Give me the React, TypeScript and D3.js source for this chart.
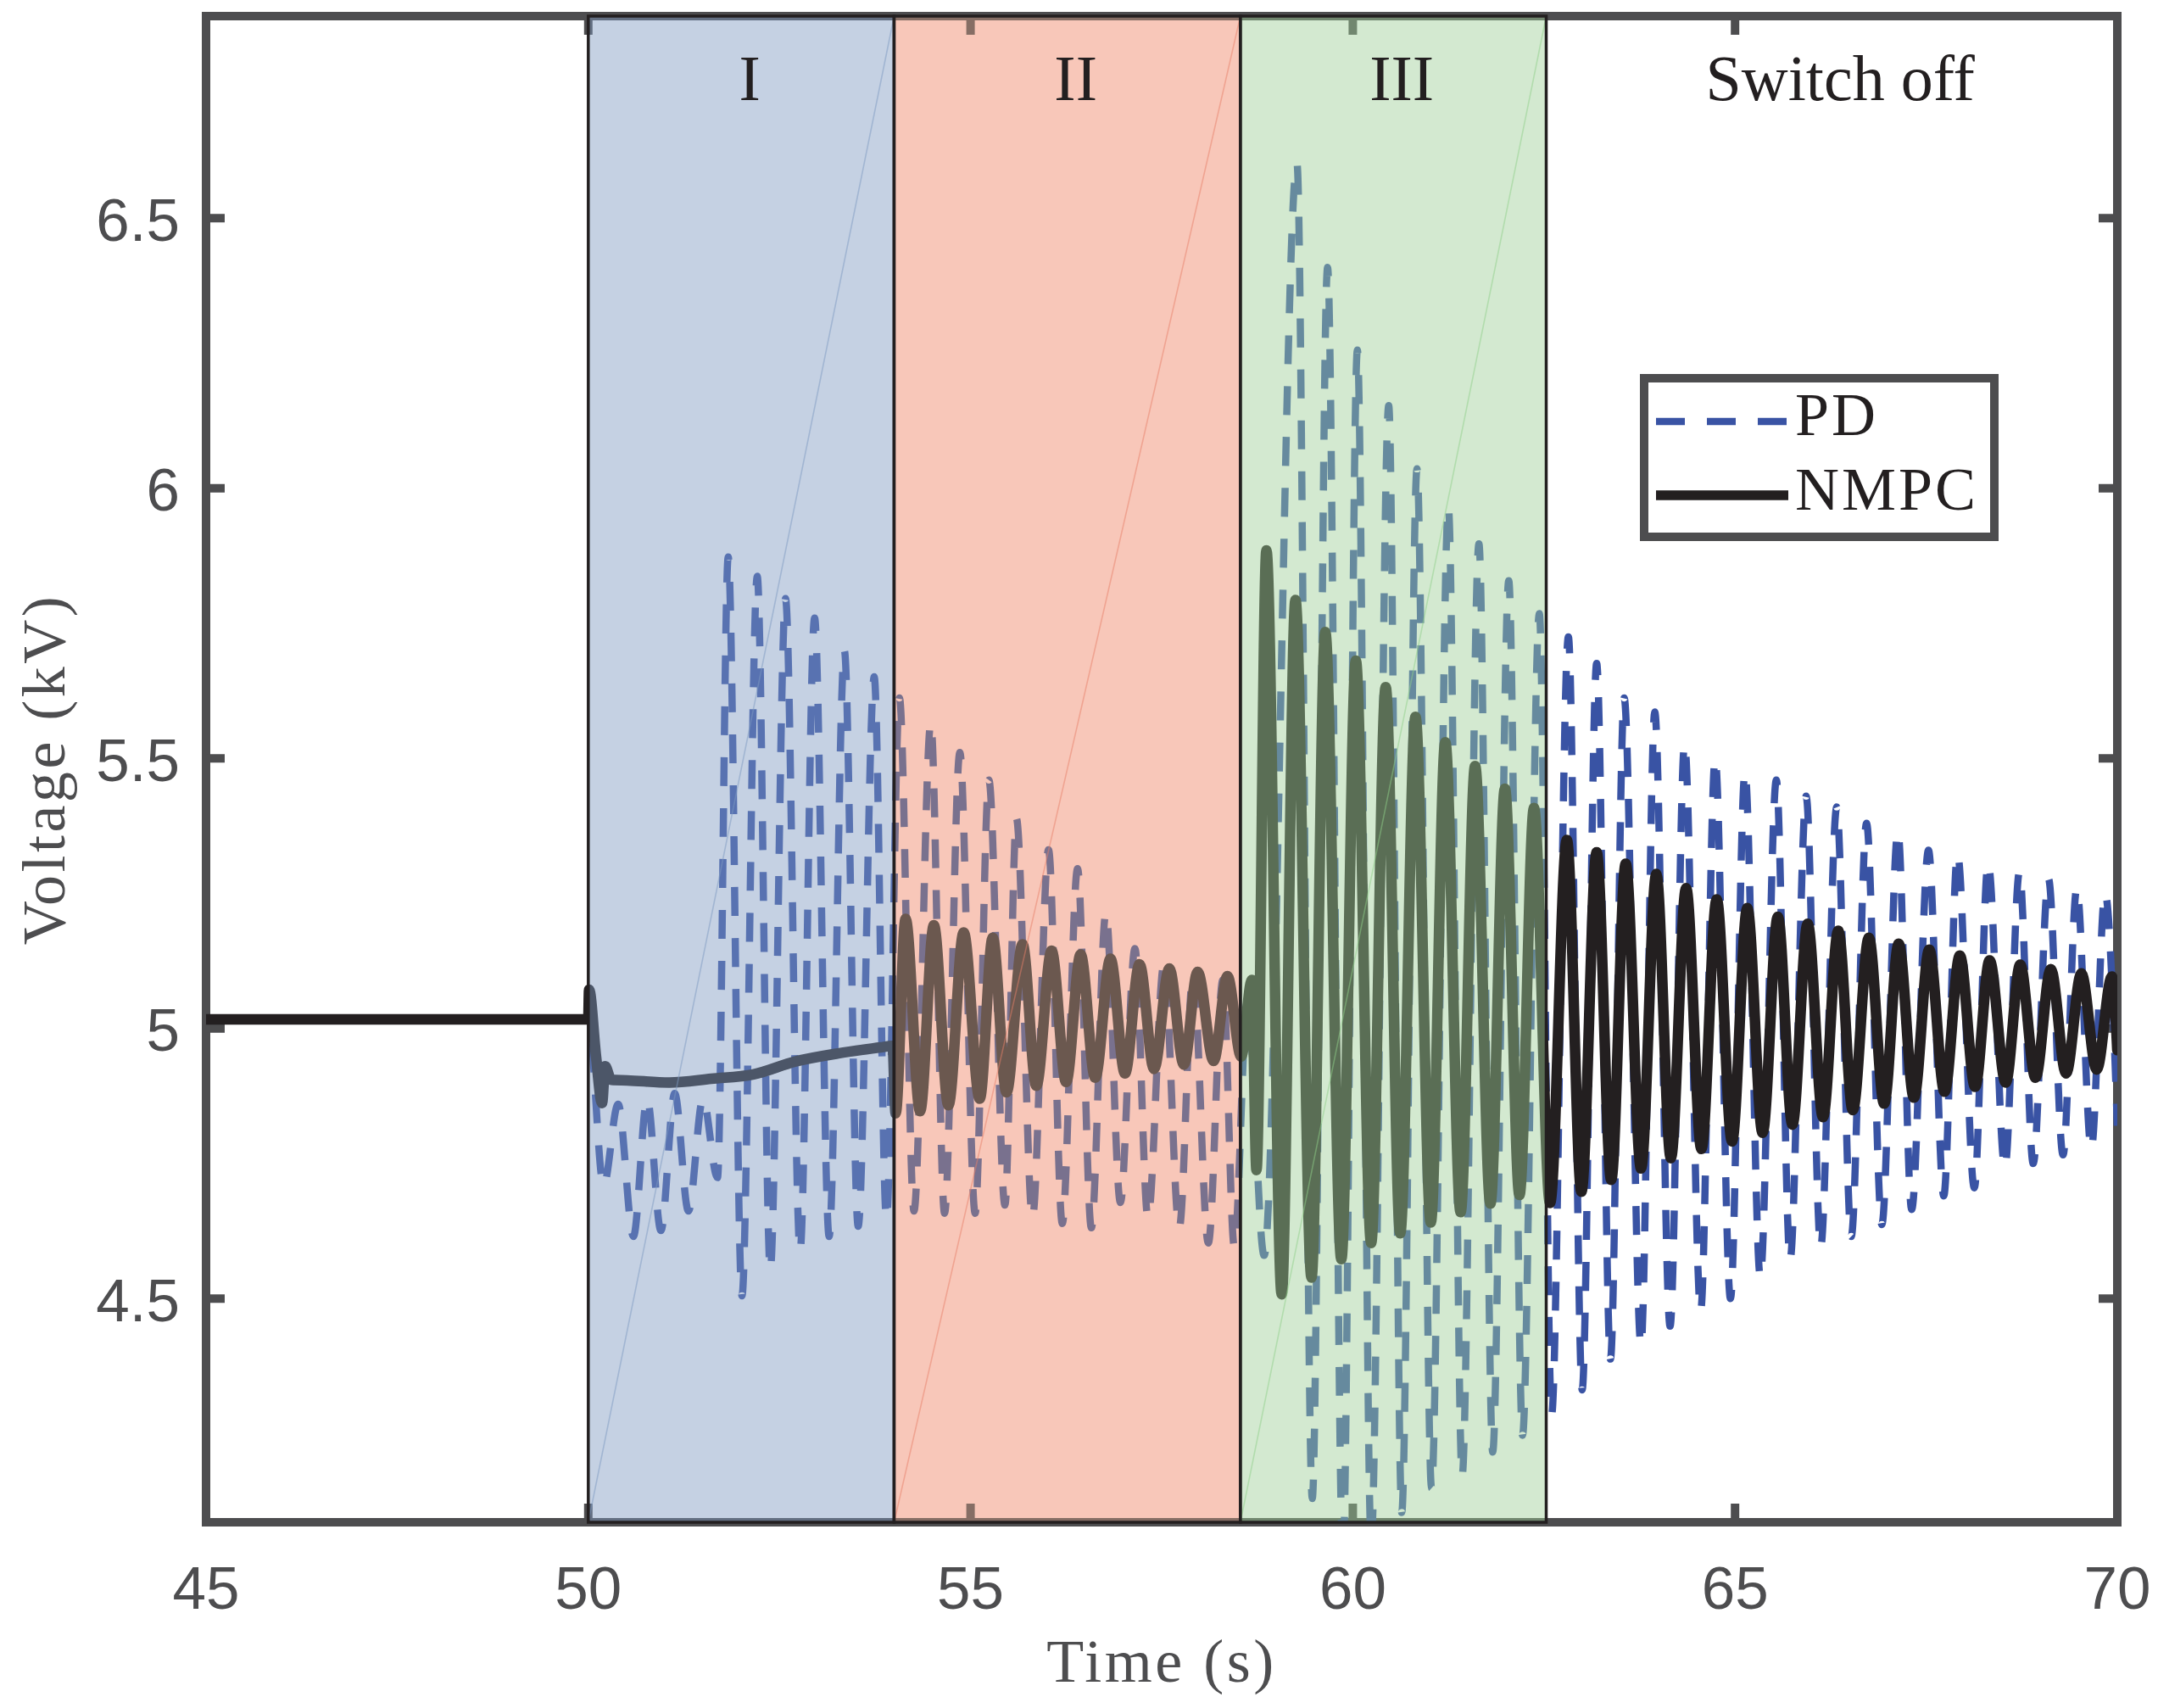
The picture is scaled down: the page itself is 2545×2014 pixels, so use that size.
import * as d3 from 'd3';

// time (s) / voltage (kV) at the turning points
const nmpcPoints: [number, number][] = [
  [45, 5.017], [50, 5.017], [50.01, 5.072], [50.1, 4.95], [50.18, 4.862], [50.22, 4.93],
  [50.3, 4.905], [50.51, 4.904], [51.06, 4.9], [51.61, 4.907], [52.16, 4.915], [52.71, 4.939],
  [53.27, 4.954], [53.82, 4.965], [53.98, 4.968], [54.02, 4.843], [54.15, 5.203], [54.34, 4.847],
  [54.52, 5.191], [54.71, 4.858], [54.91, 5.178], [55.12, 4.87], [55.29, 5.168], [55.47, 4.882],
  [55.68, 5.156], [55.86, 4.894], [56.06, 5.144], [56.25, 4.901], [56.44, 5.137], [56.63, 4.909],
  [56.83, 5.129], [57.02, 4.917], [57.21, 5.119], [57.4, 4.925], [57.6, 5.111], [57.79, 4.933],
  [57.97, 5.105], [58.18, 4.94], [58.36, 5.097], [58.54, 4.948], [58.68, 5.09], [58.74, 4.738],
  [58.87, 5.885], [59.07, 4.508], [59.25, 5.793], [59.46, 4.539], [59.64, 5.734], [59.85, 4.573],
  [60.04, 5.681], [60.24, 4.603], [60.43, 5.632], [60.62, 4.621], [60.82, 5.577], [61.02, 4.641],
  [61.21, 5.53], [61.41, 4.66], [61.6, 5.486], [61.8, 4.676], [61.99, 5.444], [62.18, 4.692],
  [62.37, 5.408], [62.58, 4.677], [62.8, 5.349], [62.99, 4.698], [63.19, 5.326], [63.38, 4.72],
  [63.57, 5.305], [63.77, 4.741], [63.97, 5.286], [64.16, 4.76], [64.36, 5.26], [64.56, 4.777],
  [64.76, 5.239], [64.96, 4.791], [65.16, 5.223], [65.36, 4.807], [65.56, 5.207], [65.75, 4.822],
  [65.95, 5.194], [66.15, 4.836], [66.35, 5.181], [66.54, 4.849], [66.75, 5.168], [66.95, 4.861],
  [67.14, 5.157], [67.34, 4.872], [67.54, 5.146], [67.74, 4.883], [67.94, 5.135], [68.14, 4.892],
  [68.33, 5.126], [68.54, 4.9], [68.73, 5.118], [68.93, 4.909], [69.13, 5.11], [69.33, 4.917],
  [69.53, 5.102], [69.73, 4.924], [69.93, 5.096], [70, 4.96],
];

const pdPoints: [number, number][] = [
  [45, 5.017], [50, 5.017], [50.2, 4.709], [50.39, 4.86], [50.59, 4.615], [50.77, 4.87],
  [50.95, 4.626], [51.13, 4.88], [51.31, 4.662], [51.5, 4.87], [51.69, 4.724], [51.83, 5.873],
  [52.01, 4.505], [52.21, 5.837], [52.38, 4.553], [52.58, 5.796], [52.77, 4.588], [52.96, 5.76],
  [53.15, 4.615], [53.35, 5.699], [53.53, 4.634], [53.74, 5.651], [53.9, 4.647], [54.07, 5.612],
  [54.26, 4.662], [54.48, 5.565], [54.66, 4.658], [54.86, 5.511], [55.06, 4.658], [55.24, 5.46],
  [55.45, 4.673], [55.6, 5.389], [55.81, 4.65], [56.02, 5.331], [56.2, 4.639], [56.4, 5.296],
  [56.58, 4.631], [56.77, 5.214], [56.96, 4.678], [57.15, 5.148], [57.32, 4.65], [57.53, 5.12],
  [57.73, 4.631], [57.91, 5.1], [58.11, 4.603], [58.3, 5.09], [58.45, 4.596], [58.62, 5.05],
  [58.84, 4.58], [59.27, 6.601], [59.47, 4.13], [59.67, 6.409], [59.87, 4.02], [60.06, 6.256],
  [60.24, 4.05], [60.47, 6.153], [60.64, 4.104], [60.84, 6.036], [61.03, 4.149], [61.25, 5.966],
  [61.43, 4.172], [61.65, 5.897], [61.83, 4.216], [62.04, 5.829], [62.22, 4.247], [62.44, 5.768],
  [62.6, 4.284], [62.82, 5.725], [63.0, 4.331], [63.19, 5.676], [63.37, 4.388], [63.55, 5.612],
  [63.77, 4.413], [63.95, 5.586], [64.15, 4.449], [64.34, 5.527], [64.55, 4.477], [64.74, 5.5],
  [64.94, 4.5], [65.13, 5.475], [65.33, 4.54], [65.54, 5.46], [65.72, 4.572], [65.93, 5.43],
  [66.12, 4.595], [66.33, 5.41], [66.52, 4.615], [66.72, 5.38], [66.92, 4.637], [67.13, 5.365],
  [67.31, 4.665], [67.53, 5.33], [67.73, 4.69], [67.91, 5.323], [68.13, 4.705], [68.31, 5.306],
  [68.53, 4.742], [68.72, 5.29], [68.9, 4.75], [69.1, 5.277], [69.29, 4.766], [69.47, 5.26],
  [69.66, 4.777], [69.84, 5.25], [70, 4.82],
];

const xTicks = [45, 50, 55, 60, 65, 70];
const yTicks = [4.5, 5, 5.5, 6, 6.5];

// shaded phases
const phaseStart = [50, 54, 58.53];
const phaseEnd = [54, 58.53, 62.53];

// labels across the top
const labelStart = [50, 54, 58.53, 62.53];
const labelEnd = [54, 58.53, 62.53, 70];
const labelNames = ['I', 'II', 'III', 'Switch off'];

const seriesNames = ['PD', 'NMPC'];

const W = 2545;
const H = 2014;
const axisGray = '#4d4d4f';
const ink = '#231f20';
const pdBlue = '#3953a4';
const sans = "'Liberation Sans', Arial, Helvetica, sans-serif";
const serif = "'Liberation Serif', 'Times New Roman', serif";

// patch look: optional multiply tint, then a translucent veil, plus the faint seam
const phaseTint: (string | null)[] = [null, '#ffc7bd', null];
const phaseVeil = ['#7e99c1', '#ebc7b2', '#9ecf97'];
const phaseVeilAlpha = [0.45, 0.36, 0.45];
const phaseSeam = ['#7e99c1', '#e8806a', '#8fd08a'];

export default function App() {
  const x = d3.scaleLinear().domain([45, 70]).range([243, 2497]);
  const y = d3.scaleLinear().domain([4.086, 6.874]).range([1795, 19]);
  const [x0, x1] = x.range();
  const [y0, y1] = y.range();

  const line = d3
    .line<[number, number]>()
    .x((d) => x(d[0]))
    .y((d) => y(d[1]))
    .curve(d3.curveMonotoneX);

  const tickLen = 22;

  return (
    <div style={{ position: 'absolute', left: 0, top: 0 }}>
      <svg width={W} height={H} viewBox={`0 0 ${W} ${H}`} style={{ display: 'block', isolation: 'isolate' }}>
        <defs>
          <clipPath id="plot">
            <rect x={x0} y={y1} width={x1 - x0} height={y0 - y1} />
          </clipPath>
        </defs>
        <rect width={W} height={H} fill="#ffffff" />

        {/* axes box and inward ticks */}
        <g stroke={axisGray} strokeWidth={10} fill="none">
          <rect x={x0} y={y1} width={x1 - x0} height={y0 - y1} />
          {xTicks.map((t) => (
            <g key={`xt${t}`}>
              <line x1={x(t)} x2={x(t)} y1={y0} y2={y0 - tickLen} />
              <line x1={x(t)} x2={x(t)} y1={y1} y2={y1 + tickLen} />
            </g>
          ))}
          {yTicks.map((t) => (
            <g key={`yt${t}`}>
              <line x1={x0} x2={x0 + tickLen} y1={y(t)} y2={y(t)} />
              <line x1={x1} x2={x1 - tickLen} y1={y(t)} y2={y(t)} />
            </g>
          ))}
        </g>

        {/* series */}
        <g clipPath="url(#plot)" fill="none">
          <path
            d={line(pdPoints) ?? ''}
            stroke={pdBlue}
            strokeWidth={8.5}
            strokeDasharray="34 26"
            strokeLinecap="butt"
          />
          <path
            d={line(nmpcPoints) ?? ''}
            stroke={ink}
            strokeWidth={12.5}
            strokeLinejoin="round"
            strokeLinecap="round"
          />
        </g>

        {/* translucent phase patches */}
        {phaseStart.map((s, i) => {
          const e = phaseEnd[i];
          const tint = phaseTint[i];
          return (
            <g key={`ph${i}`}>
              {tint && (
                <rect
                  x={x(s)}
                  y={y1}
                  width={x(e) - x(s)}
                  height={y0 - y1}
                  fill={tint}
                  style={{ mixBlendMode: 'multiply' }}
                />
              )}
              <rect
                x={x(s)}
                y={y1}
                width={x(e) - x(s)}
                height={y0 - y1}
                fill={phaseVeil[i]}
                fillOpacity={phaseVeilAlpha[i]}
              />
              <line
                x1={x(s)}
                y1={y0}
                x2={x(e)}
                y2={y1}
                stroke={phaseSeam[i]}
                strokeOpacity={0.5}
                strokeWidth={1.6}
              />
              <rect
                x={x(s)}
                y={y1}
                width={x(e) - x(s)}
                height={y0 - y1}
                fill="none"
                stroke={ink}
                strokeWidth={3.5}
              />
            </g>
          );
        })}

        {/* tick labels */}
        <g fill={axisGray} fontFamily={sans} fontSize={71}>
          {xTicks.map((t) => (
            <text key={`xl${t}`} x={x(t)} y={1897} textAnchor="middle">
              {t}
            </text>
          ))}
          {yTicks.map((t) => (
            <text key={`yl${t}`} x={212} y={y(t)} dy="0.37em" textAnchor="end">
              {t}
            </text>
          ))}
        </g>

        {/* axis titles */}
        <g fill={axisGray} fontFamily={serif} fontSize={72} letterSpacing={3.5}>
          <text x={(x0 + x1) / 2} y={1983} textAnchor="middle">
            Time (s)
          </text>
          <text
            transform={`translate(76, ${(y0 + y1) / 2}) rotate(-90)`}
            textAnchor="middle"
          >
            Voltage (kV)
          </text>
        </g>

        {/* phase labels */}
        <g fill={ink} fontFamily={serif} fontSize={76}>
          {labelNames.map((n, i) => (
            <text
              key={n}
              x={(x(labelStart[i]) + x(labelEnd[i])) / 2 + 10}
              y={118}
              textAnchor="middle"
            >
              {n}
            </text>
          ))}
        </g>

        {/* legend */}
        <g>
          <rect x={1939} y={446} width={413} height={187} fill="#ffffff" stroke={axisGray} strokeWidth={10} />
          <line x1={1953} x2={2109} y1={497} y2={497} stroke={pdBlue} strokeWidth={8.5} strokeDasharray="34 26" />
          <line x1={1953} x2={2109} y1={584} y2={584} stroke={ink} strokeWidth={11.5} />
          <g fill={ink} fontFamily={serif} fontSize={72} letterSpacing={3}>
            <text x={2117} y={513}>{seriesNames[0]}</text>
            <text x={2117} y={601}>{seriesNames[1]}</text>
          </g>
        </g>
      </svg>
    </div>
  );
}
